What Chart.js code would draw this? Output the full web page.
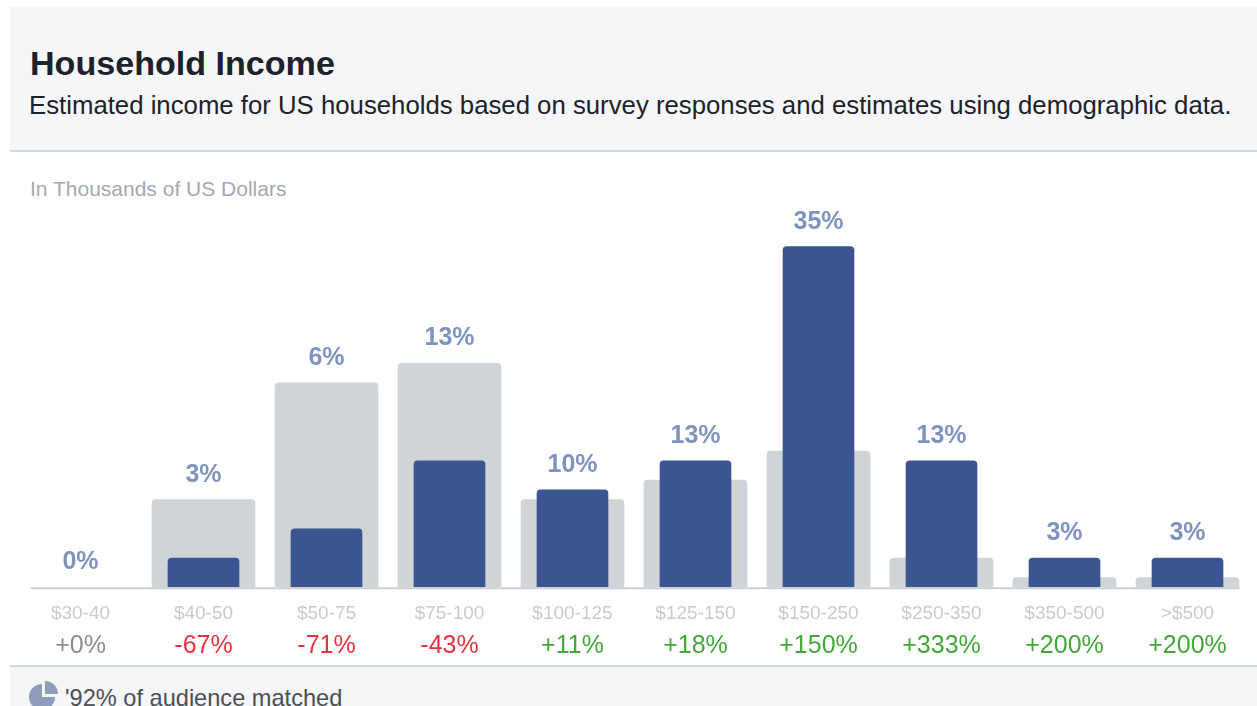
<!DOCTYPE html>
<html>
<head>
<meta charset="utf-8">
<title>Household Income</title>
<script src="https://cdn.jsdelivr.net/npm/chart.js@4/dist/chart.umd.min.js"></script>
<style>
html, body { margin: 0; padding: 0; background: #fff; width: 1257px; height: 706px; overflow: hidden; font-family: "Liberation Sans", Arial, sans-serif; }
#head { position: absolute; left: 10px; top: 7px; width: 1247px; height: 143px; background: #f5f6f8; border-bottom: 2px solid #d2d5da; }
#title { position: absolute; left: 20px; top: 38px; font-size: 34.1px; line-height: 36px; font-weight: bold; color: #1d2129; white-space: nowrap; }
#sub { position: absolute; left: 19px; top: 84px; font-size: 25.76px; line-height: 28px; color: #1d2129; white-space: nowrap; }
#unit { position: absolute; left: 30px; top: 177px; font-size: 21px; line-height: 24px; color: #a4a8b0; white-space: nowrap; }
#wrap { position: absolute; left: 0; top: 152px; width: 1257px; height: 513px; }
#foot { position: absolute; left: 10px; top: 665px; width: 1247px; height: 41px; background: #f5f6f8; border-top: 2px solid #d2d5da; overflow: hidden; }
#foot svg { position: absolute; left: 19px; top: 13px; }
#foot span { position: absolute; left: 55px; top: 17px; font-size: 23.6px; line-height: 28px; color: #4b4f56; white-space: nowrap; }
</style>
</head>
<body>
<div id="head">
    <div id="title">Household Income</div>
    <div id="sub">Estimated income for US households based on survey responses and estimates using demographic data.</div>
</div>
<div id="unit">In Thousands of US Dollars</div>
<div id="wrap"><canvas id="chart_canvas" width="1257" height="513"></canvas></div>
<div id="foot">
    <svg width="30" height="30" viewBox="0 0 30 30"><path d="M13 4 A13 13 0 1 0 26 17 L13 17 Z" fill="#8f9dbd"/><path d="M16 1 A13 13 0 0 1 29 14 L16 14 Z" fill="#8f9dbd"/></svg>
    <span>'92% of audience matched</span>
</div>

<script>
var categories = ["$30-40", "$40-50", "$50-75", "$75-100", "$100-125", "$125-150", "$150-250", "$250-350", "$350-500", ">$500"];
var audienceValues = [0, 3, 6, 13, 10, 13, 35, 13, 3, 3];
var baselineValues = [0, 9, 21, 23, 9, 11, 14, 3, 1, 1];
var changeLabels = ["+0%", "-67%", "-71%", "-43%", "+11%", "+18%", "+150%", "+333%", "+200%", "+200%"];

function changeColor(label) {
    if (label == "+0%") return "#8b8d91";
    return label.charAt(0) == "-" ? "#e8323f" : "#42a838";
}

// zero bars leave a sliver otherwise
function barColor(color) {
    return function (c) { return c.raw === 0 ? "transparent" : color; };
}

// percent labels over the taller bar, plus the base line
var barLabels = {
    id: "barLabels",
    afterDatasetsDraw: function (chart) {
        var ctx = chart.ctx;
        var x = chart.scales.x;
        var y = chart.scales.y;
        ctx.save();
        ctx.strokeStyle = "#ccced3";
        ctx.lineWidth = 2;
        ctx.beginPath();
        ctx.moveTo(x.getPixelForValue(0) - 50, y.getPixelForValue(0) + 1);
        ctx.lineTo(x.getPixelForValue(categories.length - 1) + 52, y.getPixelForValue(0) + 1);
        ctx.stroke();
        ctx.font = "bold 25px 'Liberation Sans', Arial, sans-serif";
        ctx.fillStyle = "#7e93bd";
        ctx.textAlign = "center";
        ctx.textBaseline = "middle";
        audienceValues.forEach(function (v, i) {
            var top = Math.max(v, baselineValues[i]);
            ctx.fillText(v + "%", x.getPixelForValue(i), y.getPixelForValue(top) - 25);
        });
        ctx.restore();
    }
};

var ctx = document.getElementById("chart_canvas").getContext("2d");
var chart = new Chart(ctx, {
    type: "bar",
    data: {
        labels: categories,
        datasets: [
            {
                data: audienceValues,
                backgroundColor: barColor("#3a5590"),
                barThickness: 71,
                borderRadius: 4,
                borderSkipped: "bottom",
                grouped: false,
                order: 1
            },
            {
                data: baselineValues,
                backgroundColor: barColor("#d0d3d8"),
                barThickness: 103,
                borderRadius: 4,
                borderSkipped: "bottom",
                grouped: false,
                order: 2
            }
        ]
    },
    options: {
        responsive: false,
        animation: false,
        layout: { padding: { left: 19, right: 8, top: 46, bottom: 0 } },
        plugins: { legend: { display: false }, tooltip: { enabled: false } },
        scales: {
            y: { display: false, min: 0, max: 40 },
            x: {
                grid: { display: false, drawTicks: false },
                border: { display: false },
                afterFit: function (s) { s.height -= 14; },
                ticks: {
                    color: "#c9cacc",
                    font: { family: "'Liberation Sans', Arial, sans-serif", size: 19 },
                    padding: 15,
                    maxRotation: 0,
                    autoSkip: false
                }
            },
            x2: {
                type: "category",
                labels: changeLabels,
                position: "bottom",
                grid: { display: false, drawTicks: false },
                border: { display: false },
                afterFit: function (s) { s.height -= 1; },
                ticks: {
                    color: function (c) { return changeColor(changeLabels[c.index]); },
                    font: { family: "'Liberation Sans', Arial, sans-serif", size: 25 },
                    padding: 5,
                    maxRotation: 0,
                    autoSkip: false
                }
            }
        }
    },
    plugins: [barLabels]
});
</script>
</body>
</html>
